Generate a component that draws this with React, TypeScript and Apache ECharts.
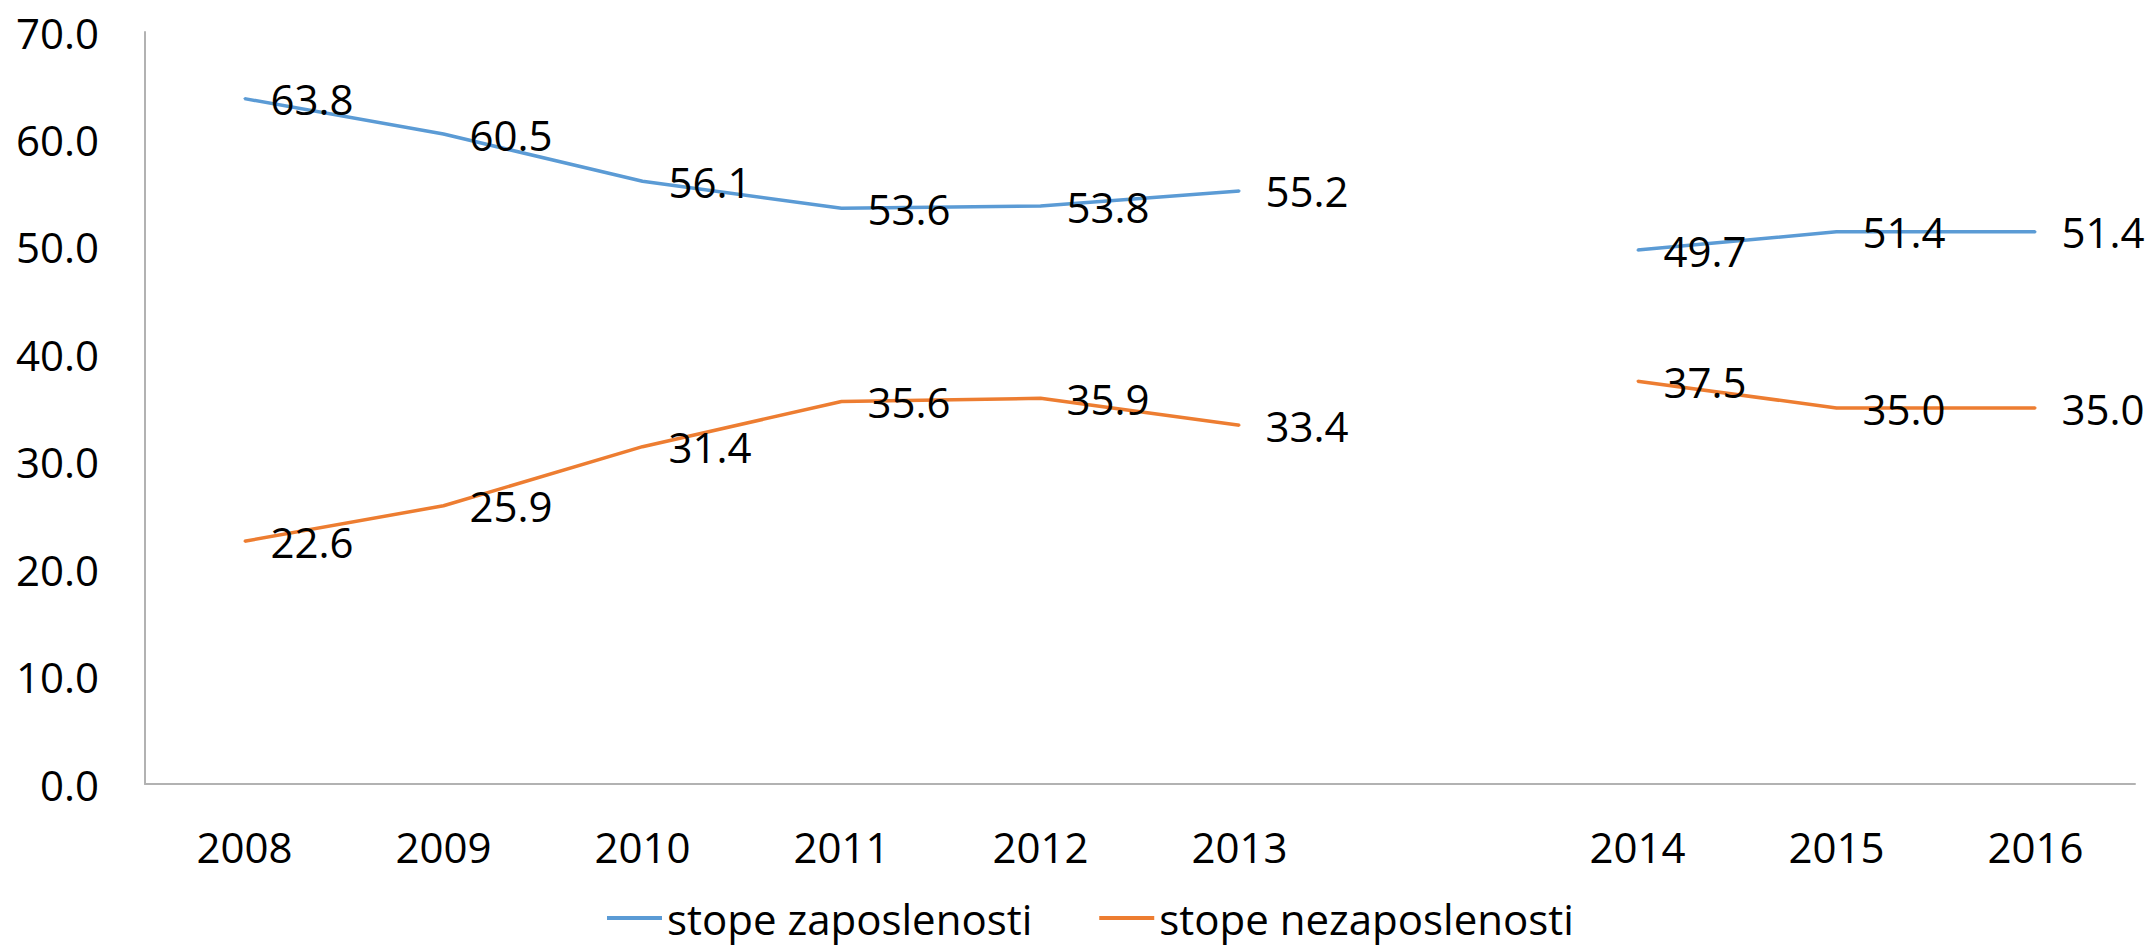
import React, { useEffect, useRef } from "react";
import * as echarts from "echarts";

const categories = ["2008", "2009", "2010", "2011", "2012", "2013", "", "2014", "2015", "2016"];
const employmentName = "stope zaposlenosti";
const unemploymentName = "stope nezaposlenosti";
const employment = [63.8, 60.5, 56.1, 53.6, 53.8, 55.2, null, 49.7, 51.4, 51.4];
const unemployment = [22.6, 25.9, 31.4, 35.6, 35.9, 33.4, null, 37.5, 35.0, 35.0];

const FONT = "'Open Sans', 'Noto Sans', sans-serif";

export default function App() {
  const ref = useRef<HTMLDivElement>(null);
  useEffect(() => {
    document.body.style.margin = "0";
    const chart = echarts.init(ref.current!, null, { renderer: "svg" });
    const labelCfg = {
      show: true,
      position: "right" as const,
      distance: 25,
      color: "#000",
      fontSize: 42,
      fontFamily: FONT,
      formatter: (p: any) => (p.value == null ? "" : Number(p.value).toFixed(1)),
    };
    const mkSeries = (name: string, data: (number | null)[], color: string) => ({
      name,
      type: "line",
      data,
      color,
      symbol: "circle",
      symbolSize: 2,
      showSymbol: true,
      connectNulls: false,
      lineStyle: { color, width: 3.5 },
      itemStyle: { color },
      label: labelCfg,
      emphasis: { disabled: true },
    });
    chart.setOption({
      animation: false,
      backgroundColor: "#fff",
      textStyle: { fontFamily: FONT },
      grid: { left: 145, right: 14, top: 32, bottom: 166, containLabel: false },
      legend: {
        top: 896,
        left: 607,
        padding: 0,
        icon: "rect",
        itemWidth: 55,
        itemHeight: 4,
        itemGap: 67,
        textStyle: { fontSize: 42, lineHeight: 44, color: "#000", fontFamily: FONT },
        data: [employmentName, unemploymentName],
      },
      xAxis: {
        type: "category",
        data: categories,
        boundaryGap: true,
        axisLine: { show: true, lineStyle: { color: "#B2B2B2", width: 2 } },
        axisTick: { show: false },
        axisLabel: { interval: 0, margin: 41, fontSize: 42, color: "#000", fontFamily: FONT },
        splitLine: { show: false },
      },
      yAxis: {
        type: "value",
        min: 0,
        max: 70,
        interval: 10,
        axisLine: { show: true, lineStyle: { color: "#B2B2B2", width: 2 } },
        axisTick: { show: false },
        splitLine: { show: false },
        axisLabel: {
          margin: 46,
          fontSize: 42,
          color: "#000",
          fontFamily: FONT,
          formatter: (v: number) => v.toFixed(1),
        },
      },
      series: [
        mkSeries(employmentName, employment, "#5B9BD5"),
        mkSeries(unemploymentName, unemployment, "#ED7D31"),
      ],
    });
    return () => chart.dispose();
  }, []);
  return <div ref={ref} style={{ width: 2149, height: 950 }} />;
}
